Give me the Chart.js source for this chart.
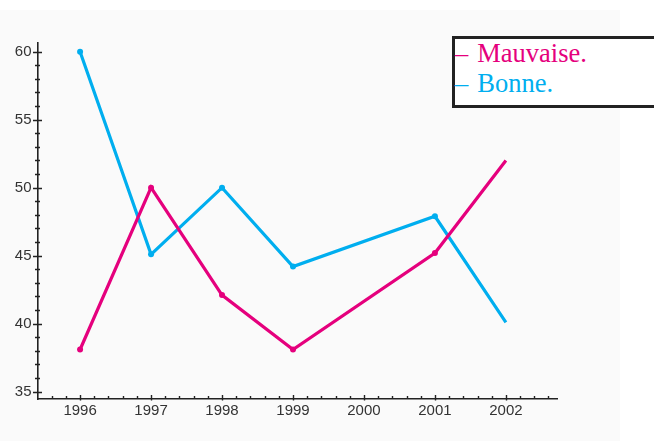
<!DOCTYPE html>
<html>
<head>
<meta charset="utf-8">
<script src="https://cdn.jsdelivr.net/npm/chart.js@4.4.1/dist/chart.umd.min.js"></script>
<style>
  html, body { margin: 0; padding: 0; background: #ffffff; }
  #wrap { position: relative; width: 654px; height: 441px; overflow: hidden; }
  #panel { position: absolute; left: 0; top: 10px; width: 620px; height: 431px; background: #fafafa; }
  #chart { position: absolute; left: 0; top: 0; }
  #legend {
    position: absolute; left: 452px; top: 36px; width: 210px; height: 66px;
    border: 3px solid #222; background: #ffffff;
    font-family: "Liberation Serif", "Times New Roman", serif; font-size: 26.5px; line-height: 30px;
    padding-left: 0px; padding-top: 0px; box-sizing: content-box;
  }
  #legend div { white-space: pre; }
  #legend div:first-child { margin-top: -1px; }
  .dash { margin-right: 9px; }
</style>
</head>
<body>
<div id="wrap">
  <div id="panel"></div>
  <canvas id="chart" width="654" height="441"></canvas>
  <div id="legend">
    <div style="color:#e5007d"><span class="dash">–</span>Mauvaise.</div>
    <div style="color:#00aeef"><span class="dash">–</span>Bonne.</div>
  </div>
</div>
<script>
// Years along the bottom axis; 2000 has no survey value
const years = [1996, 1997, 1998, 1999, 2000, 2001, 2002];
const mauvaise = [38.1, 50, 42.1, 38.1, null, 45.2, 52];
const bonne = [60, 45.1, 50, 44.2, null, 47.9, 40.1];
const yTickLabels = [35, 40, 45, 50, 55, 60];

const PINK = '#e5007d';
const BLUE = '#00aeef';
const AXIS = '#222222';

function toPoints(values) {
  return years.map((yr, i) => ({ x: yr, y: values[i] }));
}

function lastOff(ctx) {
  return ctx.dataIndex === years.length - 1 ? 0 : 3;
}

// Minor/major tick marks on both axes, placed through the chart's scales
const tickMarks = {
  id: 'tickMarks',
  afterDraw(chart) {
    const { ctx, scales } = chart;
    const xs = scales.x, ys = scales.y;
    const ax = xs.left, ay = ys.bottom;
    ctx.save();
    ctx.strokeStyle = AXIS;
    ctx.lineWidth = 1.4;
    ctx.beginPath();
    for (let v = 35; v <= 60; v++) {
      const py = Math.round(ys.getPixelForValue(v)) + 0.5;
      const len = v % 5 === 0 ? 4.5 : 2.5;
      ctx.moveTo(ax - len, py);
      ctx.lineTo(ax + len, py);
    }
    for (let k = 0; k <= 35; k++) {
      const v = 1995.6 + k * 0.2;
      if (v > xs.max + 1e-6) break;
      const px = Math.round(xs.getPixelForValue(v)) + 0.5;
      const major = Math.abs(v - Math.round(v)) < 1e-6;
      ctx.moveTo(px, ay + (major ? 1.5 : 0));
      ctx.lineTo(px, ay - (major ? 4 : 3));
    }
    ctx.stroke();
    ctx.restore();
  }
};

new Chart(document.getElementById('chart'), {
  type: 'line',
  data: {
    datasets: [
      {
        label: 'Mauvaise.',
        data: toPoints(mauvaise),
        borderColor: PINK, backgroundColor: PINK,
        borderWidth: 3.2, pointRadius: lastOff, pointBorderWidth: 0,
        spanGaps: true, tension: 0
      },
      {
        label: 'Bonne.',
        data: toPoints(bonne),
        borderColor: BLUE, backgroundColor: BLUE,
        borderWidth: 3.2, pointRadius: lastOff, pointBorderWidth: 0,
        spanGaps: true, tension: 0
      }
    ]
  },
  options: {
    responsive: false,
    animation: false,
    layout: { padding: { left: 0, top: 43, right: 97, bottom: 0 } },
    plugins: { legend: { display: false }, tooltip: { enabled: false } },
    scales: {
      x: {
        type: 'linear', min: 1995.4, max: 2002.72,
        afterFit(s) { s.height = 42; },
        afterBuildTicks(s) { s.ticks = years.map(v => ({ value: v })); },
        grid: { display: false, drawTicks: false },
        border: { display: true, color: AXIS, width: 1.6 },
        ticks: {
          color: '#333333', padding: 3,
          font: { family: 'Liberation Sans, Arial, sans-serif', size: 15 },
          callback: v => String(v)
        }
      },
      y: {
        type: 'linear', min: 34.46, max: 60.64,
        afterFit(s) { s.width = 37.5; },
        afterBuildTicks(s) { s.ticks = yTickLabels.map(v => ({ value: v })); },
        grid: { display: false, drawTicks: false },
        border: { display: true, color: AXIS, width: 1.6 },
        ticks: {
          color: '#333333', padding: 6,
          font: { family: 'Liberation Sans, Arial, sans-serif', size: 15 },
          callback: v => String(v)
        }
      }
    }
  },
  plugins: [tickMarks]
});
</script>
</body>
</html>
